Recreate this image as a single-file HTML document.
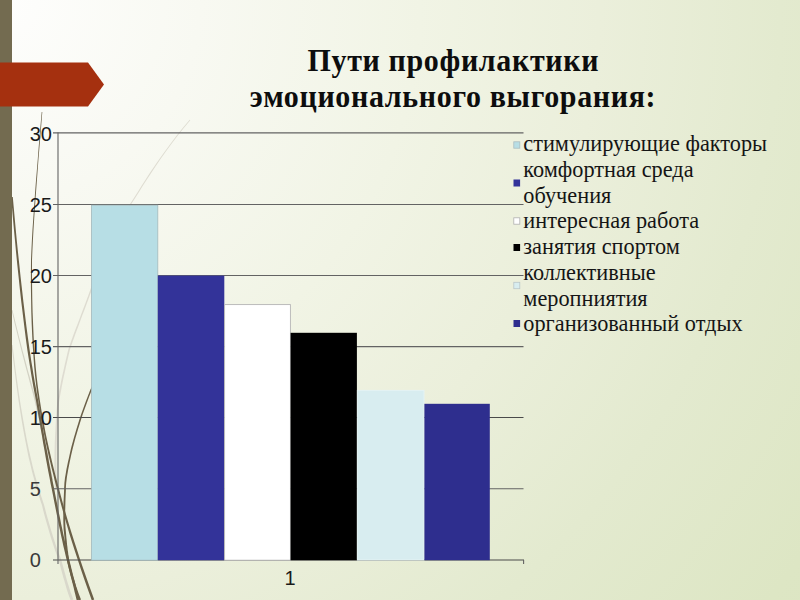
<!DOCTYPE html>
<html lang="ru">
<head>
<meta charset="utf-8">
<title>Пути профилактики эмоционального выгорания</title>
<style>
html,body{margin:0;padding:0;}
body{width:800px;height:600px;overflow:hidden;position:relative;
 background:radial-gradient(circle at 0 0,#fefefd 0px,#f8f9f2 200px,#f1f4e5 420px,#ebefdb 600px,#e3eacf 780px,#dde6c4 975px,#dbe5c1 1100px);
 font-family:"Liberation Serif",serif;}
.sidebar{position:absolute;left:0;top:0;width:12px;height:600px;background:#736b50;}
.tt{font:bold 30px "Liberation Serif",serif;fill:#0d0d0d;letter-spacing:0.65px;}
svg{position:absolute;left:0;top:0;}
.ax{font:20px "Liberation Sans",sans-serif;fill:#1a1a1a;}
.lg{font:22.3px "Liberation Serif",serif;fill:#151515;}
</style>
</head>
<body>
<svg width="800" height="600" viewBox="0 0 800 600">
 <!-- decorative swooshes -->
 <g fill="none" stroke-linecap="round">
  <path d="M189.7,119.7 L182.9,127.8 L176.5,135.8 L170.5,143.7 L164.8,151.5 L159.4,159.0 L154.4,166.2 L149.8,173.1 L145.5,179.7 L141.6,185.8 L138.1,191.4 L134.9,196.4 L132.0,200.9 L129.5,204.7 L125.4,212.6 L121.6,220.2 L117.9,227.5 L114.5,234.5 L111.2,241.2 L108.0,247.8 L105.1,254.1 L102.3,260.3 L99.6,266.4 L97.1,272.3 L94.7,278.2 L92.5,284.0 L90.3,289.8 L87.9,296.5 L85.5,302.9 L83.2,308.9 L81.1,314.6 L79.1,319.9 L77.2,324.9 L75.4,329.5 L73.8,333.8 L72.4,337.7 L71.1,341.2 L70.0,344.4 L69.0,347.3 L68.2,349.8 L66.9,355.5 L65.6,361.0 L64.4,366.3 L63.3,371.3 L62.2,376.1 L61.2,380.7 L60.4,384.9 L59.6,388.9 L58.9,392.6 L58.3,395.9 L57.8,399.0 L57.4,401.6 L57.1,403.9 L56.5,412.1 L55.9,420.1 L55.5,427.9 L55.1,435.4 L54.8,442.6 L54.6,449.6 L54.5,456.3 L54.4,462.7 L54.5,468.8 L54.5,474.6 L54.6,480.1 L54.8,485.2 L55.0,490.0 L57.0,490.0 L56.8,485.2 L56.6,480.0 L56.5,474.6 L56.4,468.8 L56.4,462.7 L56.4,456.3 L56.5,449.6 L56.7,442.7 L56.9,435.4 L57.3,428.0 L57.7,420.2 L58.2,412.3 L58.9,404.1 L59.1,401.8 L59.5,399.2 L60.0,396.2 L60.6,392.9 L61.3,389.2 L62.0,385.3 L62.9,381.0 L63.8,376.5 L64.9,371.7 L66.0,366.6 L67.2,361.3 L68.4,355.9 L69.8,350.2 L70.5,347.8 L71.5,344.9 L72.6,341.7 L73.9,338.2 L75.3,334.3 L76.9,330.0 L78.6,325.4 L80.4,320.4 L82.4,315.1 L84.6,309.4 L86.8,303.4 L89.2,297.0 L91.7,290.2 L93.8,284.5 L96.0,278.7 L98.4,272.8 L100.9,266.9 L103.5,260.8 L106.3,254.7 L109.2,248.3 L112.3,241.8 L115.5,235.0 L119.0,228.0 L122.6,220.7 L126.5,213.2 L130.5,205.3 L132.9,201.5 L135.8,197.0 L139.0,191.9 L142.5,186.3 L146.4,180.2 L150.7,173.7 L155.3,166.8 L160.2,159.5 L165.5,152.0 L171.2,144.3 L177.2,136.3 L183.6,128.3 L190.3,120.3Z" fill="#dedcd1"/>
  <path d="M11.5,345.1 L12.4,353.1 L13.4,361.2 L14.4,369.2 L15.4,377.2 L16.4,385.2 L17.5,393.1 L18.6,400.9 L19.8,408.6 L21.0,416.2 L22.2,423.6 L23.5,431.0 L24.8,438.1 L26.2,445.2 L27.3,450.8 L28.4,456.2 L29.6,461.3 L30.8,466.3 L31.9,471.0 L33.1,475.6 L34.3,480.1 L35.5,484.4 L36.8,488.7 L38.0,492.9 L39.3,497.0 L40.6,501.2 L42.0,505.3 L43.1,509.9 L44.3,514.5 L45.5,519.1 L46.8,523.6 L48.1,528.1 L49.4,532.5 L50.7,536.9 L52.0,541.1 L53.4,545.3 L54.7,549.3 L56.1,553.2 L57.5,556.9 L58.8,560.4 L59.7,563.8 L60.6,567.2 L61.5,570.7 L62.4,574.0 L63.3,577.4 L64.3,580.6 L65.2,583.8 L66.1,586.9 L67.0,589.9 L67.9,592.8 L68.8,595.5 L69.8,598.1 L70.7,600.5 L73.3,599.5 L72.4,597.1 L71.5,594.6 L70.5,591.9 L69.6,589.1 L68.7,586.1 L67.7,583.1 L66.8,579.9 L65.9,576.7 L65.0,573.4 L64.0,570.0 L63.1,566.6 L62.1,563.1 L61.2,559.6 L59.8,556.0 L58.4,552.3 L57.0,548.5 L55.6,544.5 L54.3,540.4 L52.9,536.2 L51.6,531.9 L50.3,527.5 L49.0,523.0 L47.7,518.5 L46.4,513.9 L45.2,509.3 L44.0,504.7 L42.6,500.5 L41.3,496.4 L40.0,492.3 L38.7,488.1 L37.4,483.9 L36.2,479.6 L34.9,475.1 L33.7,470.6 L32.5,465.8 L31.4,460.9 L30.2,455.8 L29.0,450.5 L27.8,444.8 L26.4,437.8 L25.1,430.7 L23.8,423.4 L22.5,415.9 L21.2,408.3 L20.0,400.7 L18.8,392.9 L17.7,385.0 L16.6,377.1 L15.5,369.1 L14.5,361.1 L13.5,353.0 L12.5,344.9Z" fill="#d9d8cb"/>
  <path d="M11.6,310.1 L13.2,317.0 L14.8,323.9 L16.5,330.8 L18.2,337.7 L19.9,344.5 L21.6,351.2 L23.3,357.8 L25.0,364.4 L26.7,370.8 L28.4,377.1 L30.0,383.3 L31.7,389.3 L33.3,395.2 L34.7,401.0 L36.0,407.0 L37.4,413.2 L38.8,419.5 L40.1,426.0 L41.5,432.5 L42.8,439.1 L44.2,445.8 L45.6,452.6 L46.9,459.5 L48.3,466.4 L49.7,473.3 L51.0,480.2 L53.0,479.8 L51.6,472.9 L50.2,466.0 L48.8,459.1 L47.4,452.3 L45.9,445.5 L44.5,438.8 L43.1,432.1 L41.7,425.6 L40.3,419.2 L38.9,412.9 L37.5,406.7 L36.1,400.7 L34.7,394.8 L33.0,389.0 L31.4,382.9 L29.7,376.8 L27.9,370.5 L26.2,364.1 L24.5,357.5 L22.7,350.9 L21.0,344.2 L19.2,337.4 L17.5,330.6 L15.8,323.7 L14.1,316.8 L12.4,309.9Z" fill="#d3d2c4"/>
  <path d="M41.7,112.0 L40.7,123.2 L39.7,134.9 L38.7,146.7 L37.8,158.8 L36.8,170.9 L35.8,183.0 L34.9,194.9 L34.1,206.8 L33.3,218.3 L32.5,229.5 L31.9,240.2 L31.4,250.4 L31.0,260.0 L30.9,273.7 L30.9,287.0 L31.1,299.8 L31.3,312.3 L31.7,324.2 L32.2,335.7 L32.8,346.7 L33.5,357.1 L34.2,367.0 L35.1,376.2 L36.1,384.9 L37.1,392.8 L38.2,400.1 L39.6,409.2 L41.0,417.9 L42.6,426.2 L44.1,434.2 L45.6,441.8 L47.2,449.1 L48.7,456.0 L50.3,462.5 L51.7,468.6 L53.2,474.3 L54.5,479.7 L55.8,484.7 L57.0,489.3 L58.9,496.4 L60.8,503.6 L62.8,510.8 L64.9,518.2 L67.1,525.8 L69.4,533.7 L71.9,541.8 L74.7,550.4 L77.6,559.3 L80.7,568.7 L84.1,578.7 L87.8,589.2 L91.8,600.4 L94.2,599.6 L90.2,588.4 L86.5,577.9 L83.0,567.9 L79.8,558.5 L76.9,549.6 L74.1,541.1 L71.6,533.0 L69.2,525.2 L66.9,517.6 L64.8,510.3 L62.8,503.0 L60.9,495.9 L59.0,488.7 L57.8,484.2 L56.5,479.2 L55.1,473.9 L53.6,468.1 L52.1,462.0 L50.6,455.5 L49.0,448.7 L47.4,441.5 L45.8,433.9 L44.3,425.9 L42.7,417.6 L41.2,408.9 L39.8,399.9 L38.7,392.6 L37.6,384.7 L36.6,376.1 L35.7,366.9 L34.9,357.0 L34.2,346.6 L33.6,335.7 L33.1,324.2 L32.6,312.2 L32.3,299.8 L32.1,286.9 L32.0,273.7 L32.0,260.0 L32.4,250.5 L32.9,240.3 L33.5,229.5 L34.2,218.4 L35.0,206.8 L35.8,195.0 L36.7,183.0 L37.6,170.9 L38.5,158.8 L39.5,146.8 L40.5,134.9 L41.4,123.3 L42.3,112.0Z" fill="#6b6048"/>
  <path d="M11.2,197.1 L12.0,207.3 L12.9,218.0 L13.9,229.2 L15.0,240.8 L16.1,252.7 L17.3,264.8 L18.6,277.1 L19.9,289.5 L21.3,301.9 L22.8,314.2 L24.3,326.4 L25.8,338.4 L27.4,350.2 L28.4,356.8 L29.4,363.0 L30.3,368.6 L31.1,373.8 L31.9,378.4 L32.6,382.6 L33.3,386.4 L33.9,389.7 L34.4,392.6 L34.9,395.1 L35.3,397.2 L35.6,398.9 L35.9,400.2 L37.1,407.2 L38.2,414.3 L39.5,421.6 L40.7,428.8 L42.0,436.1 L43.2,443.4 L44.5,450.5 L45.7,457.5 L47.0,464.4 L48.2,471.0 L49.5,477.4 L50.6,483.5 L51.8,489.2 L53.0,495.2 L54.1,501.1 L55.3,507.0 L56.4,512.8 L57.6,518.6 L58.7,524.2 L59.9,529.8 L61.0,535.2 L62.2,540.5 L63.3,545.7 L64.5,550.7 L65.6,555.6 L66.8,560.3 L67.5,563.1 L68.2,566.1 L69.0,569.2 L69.8,572.3 L70.5,575.5 L71.4,578.7 L72.2,581.9 L73.0,585.1 L73.8,588.3 L74.5,591.5 L75.3,594.5 L76.0,597.5 L76.7,600.3 L79.3,599.7 L78.5,596.8 L77.8,593.9 L77.0,590.8 L76.3,587.7 L75.5,584.5 L74.7,581.3 L73.8,578.1 L73.0,574.9 L72.2,571.7 L71.4,568.5 L70.7,565.5 L69.9,562.5 L69.2,559.7 L68.1,555.0 L66.9,550.1 L65.8,545.1 L64.6,540.0 L63.4,534.7 L62.3,529.2 L61.1,523.7 L60.0,518.1 L58.8,512.4 L57.7,506.6 L56.5,500.7 L55.3,494.7 L54.2,488.8 L53.0,483.0 L51.8,477.0 L50.6,470.6 L49.3,464.0 L48.1,457.1 L46.8,450.1 L45.5,443.0 L44.2,435.7 L43.0,428.5 L41.7,421.2 L40.5,414.0 L39.3,406.8 L38.1,399.8 L37.8,398.4 L37.5,396.7 L37.1,394.7 L36.6,392.2 L36.1,389.3 L35.5,386.0 L34.8,382.3 L34.1,378.1 L33.3,373.4 L32.5,368.3 L31.5,362.6 L30.6,356.5 L29.6,349.8 L28.0,338.2 L26.4,326.2 L24.9,314.0 L23.4,301.7 L22.0,289.3 L20.6,276.9 L19.3,264.6 L18.0,252.5 L16.8,240.6 L15.7,229.1 L14.7,217.9 L13.7,207.1 L12.8,196.9Z" fill="#6b6048"/>
  <path d="M119.5,329.7 L116.1,336.5 L112.9,342.9 L110.0,348.9 L107.2,354.6 L104.6,359.9 L102.3,364.9 L100.1,369.5 L98.0,373.7 L96.2,377.6 L94.5,381.2 L93.0,384.4 L91.6,387.2 L90.3,389.7 L87.9,395.9 L85.6,401.9 L83.5,407.7 L81.5,413.3 L79.7,418.6 L78.1,423.7 L76.6,428.5 L75.3,433.0 L74.1,437.1 L73.0,440.9 L72.1,444.3 L71.3,447.3 L70.7,449.8 L69.7,454.3 L68.8,458.4 L67.9,462.2 L67.2,465.7 L66.5,469.0 L66.0,472.1 L65.5,475.0 L65.0,477.8 L64.7,480.4 L64.4,482.9 L64.3,485.3 L64.1,487.7 L64.1,490.0 L63.9,494.5 L63.7,498.8 L63.5,503.0 L63.4,507.0 L63.4,510.7 L63.3,514.3 L63.3,517.7 L63.3,520.8 L63.4,523.7 L63.5,526.4 L63.6,528.9 L63.8,531.1 L64.0,533.1 L64.3,535.8 L64.5,538.3 L64.7,540.7 L64.9,542.9 L65.2,545.1 L65.4,547.1 L65.6,549.1 L65.8,551.0 L66.1,552.9 L66.3,554.7 L66.5,556.5 L66.8,558.3 L67.0,560.2 L67.7,563.7 L68.5,567.1 L69.3,570.6 L70.2,574.0 L71.2,577.3 L72.1,580.6 L73.1,583.8 L74.1,586.9 L75.1,589.8 L76.1,592.7 L77.1,595.4 L78.0,598.0 L79.0,600.4 L81.0,599.6 L80.1,597.2 L79.1,594.7 L78.1,592.0 L77.1,589.1 L76.1,586.2 L75.1,583.1 L74.2,580.0 L73.2,576.7 L72.3,573.4 L71.4,570.1 L70.5,566.7 L69.7,563.2 L69.0,559.8 L68.8,558.0 L68.5,556.2 L68.3,554.4 L68.1,552.6 L67.8,550.7 L67.6,548.9 L67.4,546.9 L67.1,544.9 L66.9,542.7 L66.7,540.5 L66.4,538.1 L66.2,535.6 L66.0,532.9 L65.8,530.9 L65.6,528.8 L65.4,526.3 L65.3,523.7 L65.2,520.8 L65.2,517.6 L65.2,514.3 L65.2,510.8 L65.3,507.0 L65.4,503.1 L65.5,498.9 L65.7,494.6 L65.9,490.0 L65.9,487.7 L66.0,485.4 L66.2,483.0 L66.5,480.6 L66.8,478.0 L67.2,475.3 L67.7,472.4 L68.2,469.4 L68.9,466.1 L69.6,462.5 L70.4,458.7 L71.3,454.6 L72.3,450.2 L72.9,447.7 L73.7,444.7 L74.6,441.3 L75.6,437.6 L76.8,433.4 L78.1,429.0 L79.6,424.2 L81.2,419.1 L82.9,413.8 L84.9,408.2 L87.0,402.4 L89.2,396.4 L91.7,390.3 L92.9,387.8 L94.2,385.0 L95.8,381.8 L97.4,378.2 L99.3,374.3 L101.3,370.1 L103.5,365.4 L105.8,360.5 L108.4,355.1 L111.1,349.5 L114.1,343.4 L117.2,337.0 L120.5,330.3Z" fill="#6b6048"/>
 </g>
 <rect x="0" y="0" width="12" height="600" fill="#736b50"/>
 <!-- arrow tag -->
 <polygon points="0,62.5 88,62.5 104,84.5 88,106.5 0,106.5" fill="#a5300f"/>
 <!-- gridlines -->
 <g stroke="#636363" stroke-width="1.1">
  <line x1="53" y1="132.9" x2="523.5" y2="132.9"/>
  <line x1="53" y1="204.5" x2="523.5" y2="204.5"/>
  <line x1="53" y1="275.5" x2="523.5" y2="275.5"/>
  <line x1="53" y1="346.6" x2="523.5" y2="346.6"/>
  <line x1="53" y1="417.5" x2="523.5" y2="417.5" stroke="#4a4a4a"/>
  <line x1="53" y1="488.7" x2="523.5" y2="488.7"/>
  <line x1="53" y1="560" x2="524" y2="560" stroke="#4a4a4a"/>
  <line x1="58" y1="132.5" x2="58" y2="564"/>
  <line x1="523.6" y1="560" x2="523.6" y2="564"/>
 </g>
 <!-- bars -->
 <g>
  <rect x="91.5" y="205.2" width="66.3" height="355" fill="#b7dee5" stroke="#a3b9bc" stroke-width="0.8"/>
  <rect x="157.8" y="275.6" width="66.5" height="284.6" fill="#333399"/>
  <rect x="224.6" y="304.6" width="65.8" height="255.6" fill="#ffffff" stroke="#b5b5b5" stroke-width="0.9"/>
  <rect x="290.6" y="332.8" width="66.3" height="227.4" fill="#000000"/>
  <rect x="357.4" y="390.4" width="66.6" height="169.6" fill="#d8edf0" stroke="#e4f2f4" stroke-width="1"/>
  <rect x="424.4" y="403.8" width="65.4" height="156.4" fill="#2e2e8e"/>
 </g>
 <!-- axis labels -->
 <g class="ax">
  <text x="29.7" y="140.5">30</text>
  <text x="29.7" y="211.7">25</text>
  <text x="29.7" y="282.9">20</text>
  <text x="29.7" y="354.1">15</text>
  <text x="29.7" y="425.3">10</text>
  <text x="29.7" y="496.3" fill="#3a3a3a">5</text>
  <text x="29.7" y="567.3" fill="#3a3a3a">0</text>
 </g>
 <text class="ax" x="290" y="584.6" text-anchor="middle">1</text>
 <!-- title -->
 <g class="tt" text-anchor="middle" transform="scale(1,1.06)">
  <text x="453.3" y="67.17">Пути профилактики</text>
  <text x="453" y="101.32">эмоционального выгорания:</text>
 </g>
 <!-- legend -->
 <g>
  <rect x="513.8" y="141.8" width="6" height="6.4" fill="#b7dee5" stroke="#a9bcc0" stroke-width="0.8"/>
  <rect x="513.5" y="179.5" width="6.6" height="7" fill="#333399"/>
  <rect x="513.8" y="217.8" width="6" height="6.4" fill="#ffffff" stroke="#b0b0b0" stroke-width="0.8"/>
  <rect x="513.5" y="244" width="6.6" height="7" fill="#000000"/>
  <rect x="513.8" y="282.3" width="6" height="6.4" fill="#d8edf0" stroke="#b9c6c9" stroke-width="0.8"/>
  <rect x="513.5" y="320" width="6.6" height="7" fill="#2e2e8e"/>
 </g>
 <g class="lg">
  <text x="523.3" y="151.1">стимулирующие факторы</text>
  <text x="523.3" y="176.8">комфортная среда</text>
  <text x="523.3" y="202.6">обучения</text>
  <text x="523.3" y="227.9">интересная работа</text>
  <text x="523.3" y="253.7">занятия спортом</text>
  <text x="523.3" y="279.5">коллективные</text>
  <text x="523.3" y="305.5">меропниятия</text>
  <text x="523.3" y="330.8">организованный отдых</text>
 </g>
</svg>
</body>
</html>
